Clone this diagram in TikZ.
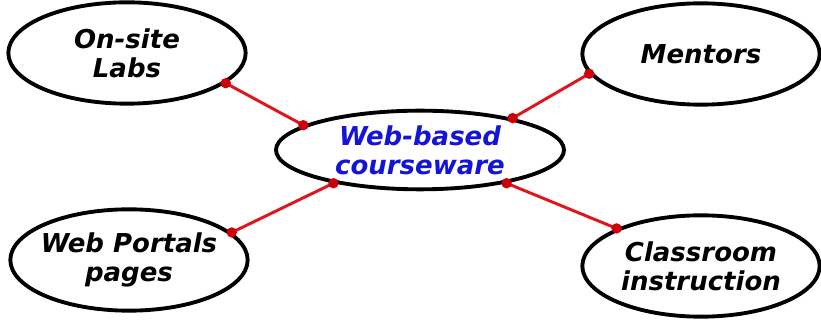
\documentclass[tikz,border=0pt]{standalone}
\usepackage{fontspec}
\setmainfont{DejaVu Sans}
\usepackage{xcolor}
\usepackage{tikz}
\usetikzlibrary{shapes.geometric}
\definecolor{linkred}{RGB}{225,20,30}
\definecolor{dotred}{RGB}{205,0,10}
\definecolor{hubblue}{RGB}{20,20,215}

\begin{document}
\begin{tikzpicture}[
    x=0.75pt, y=-0.75pt,
    bubble/.style={draw, ellipse, line width=2.9pt, inner xsep=-14pt, inner ysep=0pt, minimum width=178pt, minimum height=76pt, align=center, font=\bfseries\itshape\fontsize{19.5}{22}\selectfont},
    link/.style={draw=linkred, line width=2.2pt},
    dot/.style={fill=dotred}
]
\fill[white] (0,0) rectangle (821,323);
\useasboundingbox (0,0) rectangle (821,323);

\node[bubble, minimum width=216pt, minimum height=59pt, text=hubblue] (hub) at (420,150) {Web-based\\courseware};
\node[bubble] (labs) at (127,53) {On-site\\Labs};
\node[bubble] (mentors) at (701,54) {Mentors};
\node[bubble] (portals) at (129,260) {Web Portals\\pages};
\node[bubble] (class) at (701,266) {Classroom\\instruction};

% spokes with dots at both ends
\foreach \n/\m/\h in {labs/-17.5/168.7, mentors/190.2/19, portals/15.8/201, class/156.6/339}{
    \draw[link] (\n.\m) -- (hub.\h);
    \fill[dot] (\n.\m) circle[radius=3.9pt];
    \fill[dot] (hub.\h) circle[radius=3.9pt];
}
\end{tikzpicture}
\end{document}
